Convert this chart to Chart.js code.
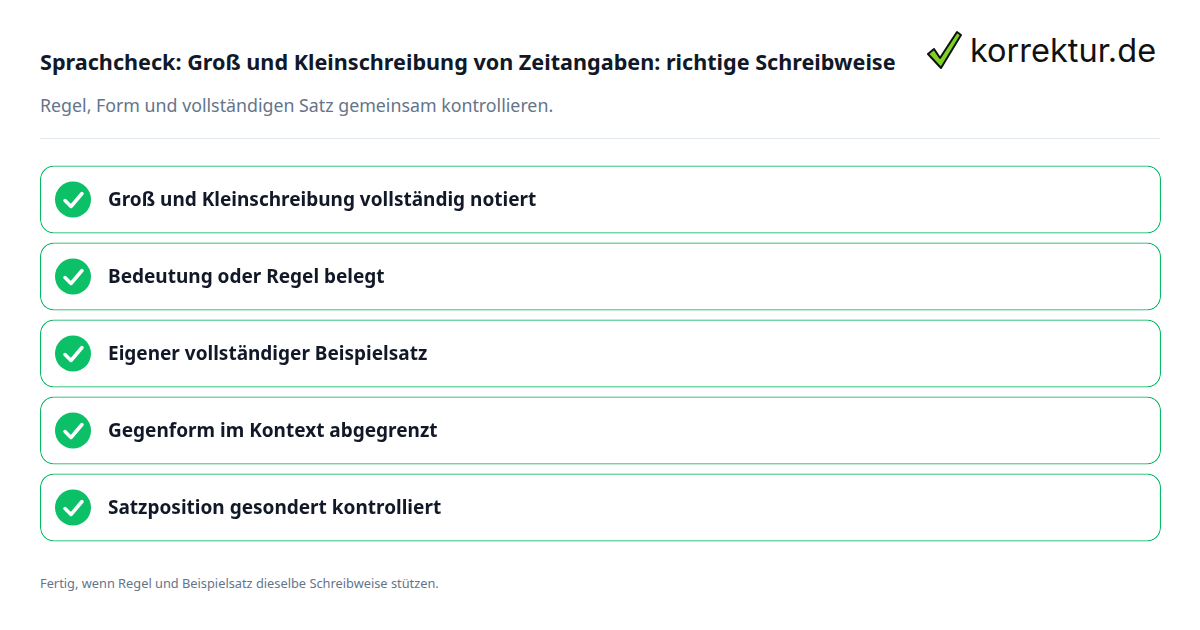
<!DOCTYPE html>
<html><head><meta charset="utf-8">
<script src="https://cdn.jsdelivr.net/npm/chart.js@4"></script>
<style>
body{margin:0;width:1200px;height:630px;background:#fff;font-family:"Noto Sans",sans-serif;position:relative;overflow:hidden}
#title{position:absolute;left:40px;top:47px;font-size:21.6px;font-weight:700;color:#111827}
#sub{position:absolute;left:40px;top:93px;font-size:17.8px;color:#64748b}
#rule{position:absolute;left:40px;top:138px;width:1120px;height:1px;background:#e2e8f0}
#foot{position:absolute;left:40px;top:574px;font-size:12.8px;color:#64748b}
#logo{position:absolute;left:926px;top:30px;display:flex;align-items:center}
#logo span{font-family:"Inter",sans-serif;font-size:32.5px;color:#111;margin-left:8px}
#wrap{position:absolute;left:40px;top:160.5px;width:1121px;height:385px}
</style></head><body>
<div id="title">Sprachcheck: Groß und Kleinschreibung von Zeitangaben: richtige Schreibweise</div>
<div id="sub">Regel, Form und vollständigen Satz gemeinsam kontrollieren.</div>
<div id="rule"></div>
<div id="logo"><svg width="36" height="40" viewBox="0 0 36 40"><path d="M2 24 L8 19 L14 28 L31 2 L35 5 L15 38 Z" fill="#7ed321" stroke="#111" stroke-width="2" stroke-linejoin="round"/></svg><span>korrektur.de</span></div>
<div id="wrap"><canvas id="c"></canvas></div>
<div id="foot">Fertig, wenn Regel und Beispielsatz dieselbe Schreibweise stützen.</div>
<script>
// checklist items
const items = [
  'Groß und Kleinschreibung vollständig notiert',
  'Bedeutung oder Regel belegt',
  'Eigener vollständiger Beispielsatz',
  'Gegenform im Kontext abgegrenzt',
  'Satzposition gesondert kontrolliert'
];
const done = [1, 1, 1, 1, 1];

const green = '#0cc068';

// draws the check circle and label inside each row box
const rowDecor = {
  id: 'rowDecor',
  afterDatasetsDraw(chart) {
    const ctx = chart.ctx;
    chart.getDatasetMeta(0).data.forEach((bar, i) => {
      const y = bar.y, x0 = bar.base;
      ctx.save();
      ctx.fillStyle = green;
      ctx.beginPath(); ctx.arc(x0 + 33, y, 18, 0, Math.PI * 2); ctx.fill();
      ctx.strokeStyle = '#fff'; ctx.lineWidth = 3.5; ctx.lineCap = 'round'; ctx.lineJoin = 'round';
      ctx.beginPath(); ctx.moveTo(x0 + 25, y + 1); ctx.lineTo(x0 + 31, y + 7); ctx.lineTo(x0 + 42, y - 6); ctx.stroke();
      ctx.fillStyle = '#111827';
      ctx.font = '700 19px "Noto Sans"';
      ctx.textBaseline = 'middle';
      ctx.fillText(items[i], x0 + 68, y + 1);
      ctx.restore();
    });
  }
};

new Chart(document.getElementById('c'), {
  type: 'bar',
  data: {
    labels: items,
    datasets: [{
      data: done,
      backgroundColor: '#fff',
      borderColor: '#08b862',
      borderWidth: 1.3,
      borderSkipped: false,
      borderRadius: 14,
      barPercentage: 0.885,
      categoryPercentage: 1
    }]
  },
  options: {
    indexAxis: 'y',
    responsive: true,
    maintainAspectRatio: false,
    animation: false,
    layout: { padding: 0 },
    plugins: { legend: { display: false }, tooltip: { enabled: false } },
    scales: {
      x: { display: false, min: 0, max: 1 },
      y: { display: false }
    }
  },
  plugins: [rowDecor]
});
</script>
</body></html>
